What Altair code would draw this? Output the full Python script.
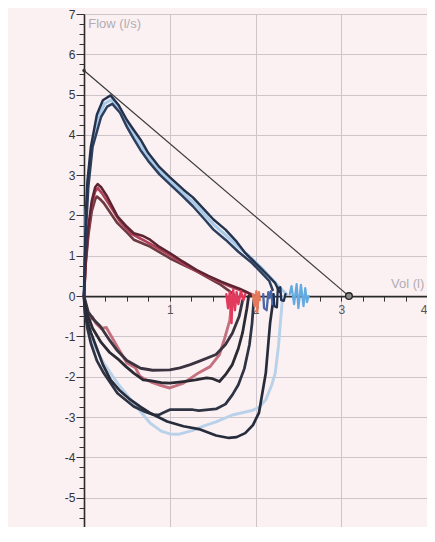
import altair as alt
import pandas as pd

# ---------------- axis tick values ----------------
x_ticks = [i / 4 for i in range(0, 17)]        # 0 .. 4
y_ticks = [i / 4 for i in range(-23, 29)]      # -5.75 .. 7

# ---------------- predicted line ----------------
pred_vol = [0.0, 3.09]
pred_flow = [5.6, 0.0]

# ---------------- expiratory curves ----------------
b1_vol = [0.0, 0.01, 0.02, 0.04, 0.08, 0.15, 0.22, 0.31, 0.40, 0.50, 0.58, 0.66, 0.75, 0.88, 1.00, 1.16, 1.27, 1.40, 1.51, 1.65, 1.78, 1.88, 2.00, 2.08, 2.16, 2.23, 2.28]
b1_flow = [0.0, 1.0, 2.0, 2.85, 3.7, 4.5, 4.86, 4.98, 4.75, 4.37, 4.12, 3.88, 3.55, 3.2, 2.95, 2.64, 2.45, 2.15, 1.9, 1.65, 1.35, 1.07, 0.82, 0.65, 0.48, 0.32, 0.1]

b2_vol = [0.0, 0.01, 0.03, 0.05, 0.10, 0.20, 0.27, 0.33, 0.42, 0.50, 0.58, 0.66, 0.75, 0.88, 1.00, 1.14, 1.27, 1.40, 1.51, 1.65, 1.80, 1.96, 2.06, 2.16, 2.20]
b2_flow = [0.0, 0.9, 1.9, 2.7, 3.7, 4.45, 4.7, 4.77, 4.55, 4.2, 3.9, 3.62, 3.35, 3.02, 2.78, 2.5, 2.23, 1.92, 1.65, 1.4, 1.1, 0.82, 0.6, 0.38, 0.15]

b3_vol = [0.0, 0.01, 0.02, 0.045, 0.09, 0.17, 0.24, 0.32, 0.41, 0.50, 0.58, 0.66, 0.75, 0.88, 1.00, 1.15, 1.27, 1.40, 1.51, 1.65, 1.80, 1.95, 2.07, 2.18, 2.28, 2.36]
b3_flow = [0.0, 0.95, 1.95, 2.8, 3.65, 4.45, 4.78, 4.87, 4.65, 4.3, 4.0, 3.75, 3.45, 3.1, 2.86, 2.57, 2.34, 2.04, 1.78, 1.52, 1.22, 0.95, 0.7, 0.45, 0.22, 0.05]

r1_vol = [0.0, 0.02, 0.05, 0.09, 0.13, 0.16, 0.20, 0.27, 0.39, 0.50, 0.58, 0.68, 0.77, 0.88, 1.00, 1.15, 1.31, 1.45, 1.60, 1.72, 1.82, 1.90, 1.95]
r1_flow = [0.0, 0.9, 1.7, 2.35, 2.7, 2.78, 2.7, 2.47, 1.98, 1.72, 1.56, 1.5, 1.4, 1.22, 1.07, 0.86, 0.65, 0.5, 0.36, 0.26, 0.18, 0.1, 0.02]

r2_vol = [0.0, 0.02, 0.05, 0.09, 0.13, 0.16, 0.21, 0.30, 0.42, 0.55, 0.70, 0.85, 1.00, 1.15, 1.31, 1.48, 1.62, 1.75, 1.86, 1.95, 2.00]
r2_flow = [0.0, 0.85, 1.6, 2.25, 2.6, 2.68, 2.55, 2.25, 1.85, 1.55, 1.38, 1.2, 1.02, 0.82, 0.62, 0.45, 0.32, 0.2, 0.12, 0.05, 0.0]

r3_vol = [0.0, 0.02, 0.05, 0.09, 0.13, 0.15, 0.19, 0.23, 0.39, 0.50, 0.58, 0.77, 1.00, 1.15, 1.31, 1.45, 1.58, 1.68, 1.75]
r3_flow = [0.0, 0.8, 1.5, 2.1, 2.4, 2.47, 2.4, 2.31, 1.81, 1.58, 1.4, 1.23, 0.94, 0.78, 0.62, 0.45, 0.3, 0.15, 0.03]

# ---------------- inspiratory curves ----------------
f_vol = [0.0, 0.02, 0.08, 0.15, 0.22, 0.31, 0.42, 0.54, 0.66, 0.77, 0.97, 1.16, 1.34, 1.54, 1.69, 1.78, 1.88, 1.97, 2.04, 2.12, 2.17, 2.21]
f_flow = [0.0, -0.5, -0.9, -1.3, -1.7, -2.08, -2.35, -2.57, -2.75, -2.9, -3.11, -3.23, -3.3, -3.46, -3.52, -3.5, -3.4, -3.2, -2.9, -1.91, -0.67, -0.05]

d_vol = [0.0, 0.01, 0.04, 0.08, 0.15, 0.23, 0.39, 0.58, 0.70, 0.81, 0.87, 0.93, 1.00, 1.27, 1.34, 1.54, 1.65, 1.73, 1.80, 1.87, 1.93, 1.96, 1.98]
d_flow = [0.0, -0.4, -0.8, -1.17, -1.6, -1.91, -2.41, -2.74, -2.86, -2.94, -2.95, -2.89, -2.82, -2.82, -2.84, -2.8, -2.68, -2.45, -2.2, -1.8, -1.2, -0.67, -0.1]

e_vol = [0.0, 0.02, 0.08, 0.15, 0.23, 0.39, 0.58, 0.77, 0.90, 1.00, 1.10, 1.27, 1.40, 1.54, 1.73, 1.96, 2.05, 2.12, 2.19, 2.23, 2.27, 2.29, 2.31, 2.33]
e_flow = [0.0, -0.5, -1.0, -1.35, -1.66, -2.16, -2.66, -3.15, -3.35, -3.42, -3.43, -3.33, -3.22, -3.12, -2.95, -2.84, -2.75, -2.57, -2.2, -1.91, -1.2, -0.67, -0.17, 0.0]

bb_vol = [0.0, 0.03, 0.10, 0.20, 0.30, 0.39, 0.49, 0.58, 0.69, 0.77, 0.90, 1.00, 1.16, 1.30, 1.43, 1.50, 1.58, 1.65, 1.73, 1.80, 1.85, 1.90, 1.92]
bb_flow = [0.0, -0.4, -0.8, -1.15, -1.4, -1.55, -1.75, -1.91, -2.08, -2.1, -2.15, -2.16, -2.12, -2.08, -2.03, -2.05, -2.12, -1.95, -1.7, -1.3, -0.9, -0.3, 0.0]

a_vol = [0.0, 0.05, 0.12, 0.19, 0.30, 0.38, 0.50, 0.66, 0.80, 1.00, 1.12, 1.24, 1.34, 1.54, 1.65, 1.73, 1.81, 1.85]
a_flow = [0.0, -0.4, -0.6, -0.75, -1.1, -1.33, -1.6, -1.79, -1.84, -1.83, -1.78, -1.7, -1.62, -1.45, -1.2, -0.92, -0.5, -0.1]

c_vol = [0.0, 0.02, 0.06, 0.10, 0.14, 0.20, 0.26, 0.32, 0.40, 0.50, 0.60, 0.65, 0.70, 0.80, 0.90, 1.00, 1.16, 1.34, 1.47, 1.58, 1.64, 1.70, 1.72, 1.73]
c_flow = [0.0, -0.45, -0.62, -0.52, -0.68, -0.8, -0.78, -1.0, -1.3, -1.66, -1.78, -1.98, -2.05, -2.15, -2.22, -2.28, -2.16, -1.9, -1.75, -1.45, -1.05, -0.6, -0.2, 0.0]

# ---------------- end-of-test oscillations ----------------
s_red_vol = [1.66, 1.68, 1.70, 1.72, 1.73, 1.74, 1.76, 1.78, 1.80, 1.83, 1.86, 1.88]
s_red_flow = [0.05, -0.3, 0.1, -0.67, -0.1, 0.15, -0.35, 0.1, -0.2, 0.12, -0.1, 0.05]

s_orange_vol = [1.97, 1.99, 2.01, 2.02, 2.04, 2.05]
s_orange_flow = [0.05, -0.25, 0.12, -0.4, 0.1, -0.1]

s_mid_vol = [2.09, 2.10, 2.13, 2.15, 2.16, 2.18, 2.20, 2.21]
s_mid_flow = [0.05, -0.3, -0.35, 0.1, -0.05, 0.12, -0.2, 0.05]

s_navy_vol = [2.21, 2.22, 2.25, 2.26, 2.29, 2.30, 2.33, 2.35]
s_navy_flow = [0.05, -0.25, -0.28, 0.2, 0.22, -0.1, -0.12, 0.05]

s_light_vol = [2.40, 2.42, 2.45, 2.48, 2.50, 2.53, 2.56, 2.58, 2.60, 2.62]
s_light_flow = [0.05, 0.25, -0.2, 0.3, -0.3, 0.28, -0.25, 0.2, -0.15, 0.0]

# ---------------- series styling ----------------
light_series = [
    ("b3", b3_vol, b3_flow, "#a8cbe9", 3.0),
    ("e", e_vol, e_flow, "#b9d2ea", 2.2),
]
main_series = [
    ("c", c_vol, c_flow, "#c4707f", 1.3),
    ("a", a_vol, a_flow, "#3b3440", 1.3),
    ("bb", bb_vol, bb_flow, "#2b2a33", 1.3),
    ("d", d_vol, d_flow, "#2f3444", 1.3),
    ("f", f_vol, f_flow, "#262c3c", 1.4),
    ("r3", r3_vol, r3_flow, "#6e3a42", 1.3),
    ("r2", r2_vol, r2_flow, "#b0405a", 1.3),
    ("r1", r1_vol, r1_flow, "#5b2430", 1.4),
    ("b2", b2_vol, b2_flow, "#2d3f5e", 1.4),
    ("b1", b1_vol, b1_flow, "#24324d", 1.5),
]
scribble_series = [
    ("s_red", s_red_vol, s_red_flow, "#e23a5c", 1.4),
    ("s_orange", s_orange_vol, s_orange_flow, "#e57a5a", 1.3),
    ("s_mid", s_mid_vol, s_mid_flow, "#4a68a8", 1.3),
    ("s_navy", s_navy_vol, s_navy_flow, "#22304f", 1.4),
    ("s_light", s_light_vol, s_light_flow, "#62aae0", 1.6),
]
all_series = light_series + main_series + scribble_series

rows = []
for name, vols, flows, _, _ in all_series:
    for i, (v, f) in enumerate(zip(vols, flows)):
        rows.append({"series": name, "idx": i, "vol": v, "flow": f})
curves_df = pd.DataFrame(rows)

# ---------------- geometry ----------------
PX_PER_Y = 40.3
PAD_LEFT, PAD_TOP = 76, 6
W = 343            # plot area width  (svg 419 wide: fits the 435 window with its margins)
H = 513            # plot area height (svg 519 tall)
X_MIN, X_MAX = 0.0, 4.0
Y_MAX = 7.0
Y_MIN = Y_MAX - H / PX_PER_Y
zero_from_bottom = H * (0 - Y_MIN) / (Y_MAX - Y_MIN)

FONT = "Liberation Sans"
INT_TEST = "datum.value % 1 === 0"

x_enc = alt.X(
    "vol:Q",
    scale=alt.Scale(domain=[X_MIN, X_MAX], nice=False, zero=False),
    axis=alt.Axis(
        values=x_ticks,
        title=None,
        orient="bottom",
        offset=-zero_from_bottom,
        labelExpr="datum.value % 1 === 0 && datum.value > 0 ? toString(datum.value) : ''",
        labelOverlap=False,
        labelFlush=True,
        labelFont=FONT,
        labelFontSize=12,
        labelColor="#555555",
        labelPadding=3,
        tickSize=5,
        tickColor="#333333",
        domainColor="#2a2a2a",
        domainWidth=1.6,
        grid=True,
        gridColor={"condition": {"test": INT_TEST, "value": "#cdc5c9"}, "value": "transparent"},
        gridWidth=1,
    ),
)
y_enc = alt.Y(
    "flow:Q",
    scale=alt.Scale(domain=[Y_MIN, Y_MAX], nice=False, zero=False),
    axis=alt.Axis(
        values=y_ticks,
        title=None,
        labelExpr="datum.value % 1 === 0 ? toString(datum.value) : ''",
        labelOverlap=False,
        labelFlush=False,
        labelFont=FONT,
        labelFontSize=12,
        labelColor="#333333",
        labelPadding=1,
        tickSize={"condition": {"test": INT_TEST, "value": 8}, "value": 5},
        tickColor="#333333",
        domainColor="#2a2a2a",
        domainWidth=1.6,
        grid=True,
        gridColor={"condition": {"test": INT_TEST, "value": "#cdc5c9"}, "value": "transparent"},
        gridWidth=1,
    ),
)

names = [s[0] for s in all_series]
curves = alt.Chart(curves_df).mark_line(strokeJoin="round", strokeCap="round").encode(
    x=x_enc,
    y=y_enc,
    color=alt.Color("series:N", scale=alt.Scale(domain=names, range=[s[3] for s in all_series]), legend=None),
    strokeWidth=alt.StrokeWidth("series:N", scale=alt.Scale(domain=names, range=[s[4] for s in all_series]), legend=None),
    order=alt.Order("idx:Q"),
)

pred_df = pd.DataFrame({"vol": pred_vol, "flow": pred_flow})
pred_line = alt.Chart(pred_df).mark_line(color="#3a3a3a", strokeWidth=1.2).encode(x=x_enc, y=y_enc)
pred_end = alt.Chart(pred_df.iloc[[1]]).mark_point(
    shape="circle", filled=True, fill="#8a8a8a", stroke="#222222", strokeWidth=1.3, size=45, opacity=1
).encode(x=x_enc, y=y_enc)
pred_start = alt.Chart(pred_df.iloc[[0]]).mark_point(
    shape="circle", filled=True, color="#333333", size=12, opacity=1
).encode(x=x_enc, y=y_enc)

label_df = pd.DataFrame({
    "vol": [0.05, 3.58],
    "flow": [6.75, 0.3],
    "text": ["Flow (l/s)", "Vol (l)"],
})
labels = alt.Chart(label_df).mark_text(
    align="left", baseline="middle", font=FONT, fontSize=13, color="#b3acb1"
).encode(x=x_enc, y=y_enc, text="text:N")

chart = alt.layer(
    pred_line,
    curves,
    pred_start,
    pred_end,
    labels,
).properties(
    width=W,
    height=H,
    autosize=alt.AutoSizeParams(type="none"),
    padding={"left": PAD_LEFT, "top": PAD_TOP, "right": 0, "bottom": 0},
    background="#fbf1f3",
).configure_view(strokeWidth=0)

chart.save("out.html", embed_options={"renderer": "svg", "actions": False})
